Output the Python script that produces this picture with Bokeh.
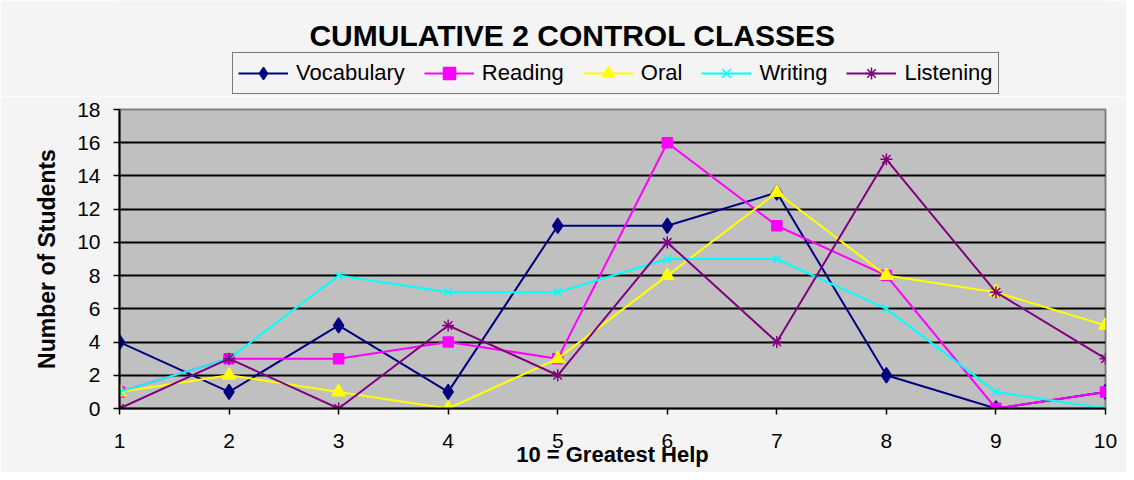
from bokeh.plotting import figure
from bokeh.layouts import column
from bokeh.models import Range1d, FixedTicker, Legend, LegendItem, Label
from bokeh.embed import file_html
from bokeh.resources import INLINE

# ---- data ----
x = [1, 2, 3, 4, 5, 6, 7, 8, 9, 10]
vocabulary = [4, 1, 5, 1, 11, 11, 13, 2, 0, 1]
reading = [1, 3, 3, 4, 3, 16, 11, 8, 0, 1]
oral = [1, 2, 1, 0, 3, 8, 13, 8, 7, 5]
writing = [1, 3, 8, 7, 7, 9, 9, 6, 1, 0]
listening = [0, 3, 0, 5, 2, 10, 4, 15, 7, 3]
series_names = ["Vocabulary", "Reading", "Oral", "Writing", "Listening"]
y_ticks = [0, 2, 4, 6, 8, 10, 12, 14, 16, 18]

FONT = "Liberation Sans"
BG = "#f4f4f4"
W = 1126
HEAD_H = 96
MAIN_H = 472 - HEAD_H
FRAME_L, FRAME_R, FRAME_T, FRAME_B = 119, 1105, 109, 408

styles = [
    ("#000080", "diamond", 15, "#000080"),
    ("#FF00FF", "square", 10, "#FF00FF"),
    ("#FFFF00", "triangle", 13, "#FFFF00"),
    ("#00FFFF", "x", 11, None),
    ("#800080", "asterisk", 12, None),
]
series = [vocabulary, reading, oral, writing, listening]

# ---- header: title + legend (frame aligned with main frame, pixel coordinates) ----
head = figure(width=W, height=HEAD_H, output_backend="svg", toolbar_location=None,
              title=None, x_range=Range1d(FRAME_L, FRAME_R), y_range=Range1d(HEAD_H, 0),
              x_axis_type=None, y_axis_type=None,
              min_border_left=0, min_border_right=0, min_border_top=0, min_border_bottom=0,
              background_fill_color=BG, border_fill_color=BG, outline_line_color=None)

head.add_layout(Label(x=572, y=34.5, text="CUMULATIVE 2 CONTROL CLASSES",
                      text_align="center", text_baseline="middle",
                      text_font=FONT, text_font_size="30px", text_font_style="bold",
                      text_color="black"))

# legend proxies: same series, but they fall outside the header's visible frame
items = []
for name, ys, (color, marker, size, fill) in zip(series_names, series, styles):
    ln = head.line(x, ys, line_color=color, line_width=2)
    sc = head.scatter(x, ys, marker=marker, size=size, line_color=color,
                      fill_color=fill, line_width=1.5)
    items.append(LegendItem(label=name, renderers=[ln, sc]))

legend = Legend(items=items, orientation="horizontal",
                location=(232 - FRAME_L, HEAD_H - 94),
                label_text_font=FONT, label_text_font_size="22px",
                label_text_color="black",
                glyph_width=50, glyph_height=30, label_standoff=8,
                spacing=19, padding=5, margin=0,
                border_line_color="black", border_line_width=1.5,
                background_fill_color=BG, background_fill_alpha=1.0)
head.add_layout(legend)

# ---- main chart ----
p = figure(width=W, height=MAIN_H, output_backend="svg", toolbar_location=None,
           title=None, x_range=Range1d(1, 10), y_range=Range1d(0, 18),
           min_border_left=FRAME_L, min_border_right=W - FRAME_R,
           min_border_top=FRAME_T - HEAD_H, min_border_bottom=472 - FRAME_B,
           background_fill_color="#c0c0c0", border_fill_color=BG)

p.outline_line_color = "#808080"
p.outline_line_width = 2

p.xgrid.visible = False
p.ygrid.ticker = FixedTicker(ticks=y_ticks)
p.ygrid.grid_line_color = "black"
p.ygrid.grid_line_width = 2

for ax in (p.xaxis[0], p.yaxis[0]):
    ax.axis_line_color = "black"
    ax.axis_line_width = 2
    ax.major_tick_line_color = "black"
    ax.major_tick_line_width = 1.5
    ax.major_tick_out = 6
    ax.major_tick_in = 0
    ax.minor_tick_line_color = None
    ax.major_label_text_font = FONT
    ax.major_label_text_font_size = "21px"
    ax.major_label_text_color = "black"
    ax.axis_label_text_font = FONT
    ax.axis_label_text_font_size = "22px"
    ax.axis_label_text_font_style = "bold"
    ax.axis_label_text_color = "black"

p.xaxis.ticker = FixedTicker(ticks=x)
p.xaxis.major_label_standoff = 19
p.xaxis.axis_label = "10 = Greatest Help"
p.xaxis.axis_label_standoff = -9

p.yaxis.ticker = FixedTicker(ticks=y_ticks)
p.yaxis.major_label_standoff = 13
p.yaxis.axis_label = "Number of Students"
p.yaxis.axis_label_text_font_size = "23px"
p.yaxis.axis_label_standoff = 14

for ys, (color, marker, size, fill) in zip(series, styles):
    p.line(x, ys, line_color=color, line_width=2)
    p.scatter(x, ys, marker=marker, size=size, line_color=color,
              fill_color=fill, line_width=1.5)

layout = column(head, p, spacing=0)
open("out.html", "w").write(file_html(layout, INLINE))
